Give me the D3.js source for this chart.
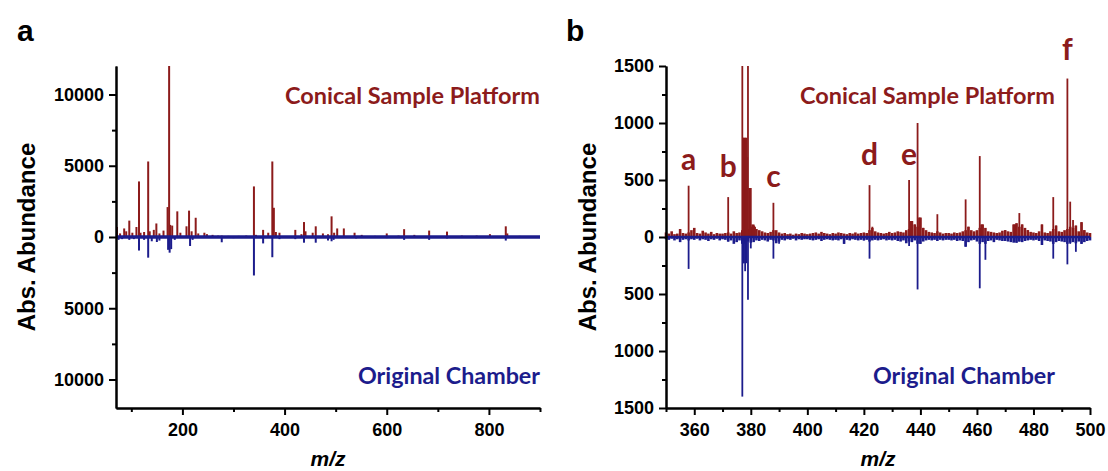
<!DOCTYPE html>
<html>
<head>
<meta charset="utf-8">
<script src="https://cdn.jsdelivr.net/npm/d3@7"></script>
<style>
body { margin: 0; background: #fff; }
svg { display: block; }
.tk text { font-family: "Liberation Sans", Arial, sans-serif; font-weight: bold; font-size: 18px; fill: #000; }
.tk path, .tk line { stroke: #000; stroke-width: 2; }
</style>
</head>
<body>
<svg width="1108" height="471"></svg>
<script>

// panel a: full range, [m/z, abundance]
var conicalA = [[72,700],[78,250],[86,600],[90,400],[96,1150],[102,300],[110,700],[115,3900],[118,300],[125,350],
  [133,5300],[136,400],[144,500],[149,950],[155,250],[163,450],[171,2100],[174,12500],[176,850],[180,800],
  [190,1800],[196,300],[208,750],[213,1850],[218,400],[226,1350],[231,250],[243,300],[248,200],[259,150],
  [270,100],[277,100],[290,80],[310,80],[325,100],[340,3550],[344,150],[358,500],[368,300],[376,5300],
  [379,2050],[383,350],[390,300],[421,500],[433,200],[438,1050],[441,400],[455,300],[461,750],[475,250],
  [485,200],[492,1450],[497,300],[503,600],[516,600],[537,300],[551,150],[577,80],[600,250],[623,100],
  [634,550],[654,150],[683,450],[718,380],[747,100],[776,100],[802,200],[833,750],[836,250],[860,80],[880,60]];

var originalA = [[75,-200],[82,-150],[96,-200],[105,-150],[115,-950],[125,-200],[133,-1450],[140,-300],[150,-350],
  [155,-250],[172,-900],[175,-1100],[178,-850],[185,-200],[215,-630],[220,-200],[277,-370],[300,-80],
  [340,-2700],[358,-450],[376,-1420],[390,-150],[421,-150],[438,-400],[461,-400],[485,-250],[492,-300],
  [496,-200],[540,-100],[600,-80],[634,-200],[683,-200],[718,-100],[833,-250]];

// panel b: zoom 350-500
var conicalB = [[358,450],[372,350],[377,2600],[377.25,870],[377.5,870],[377.75,870],[378,870],[378.25,870],
  [378.5,870],[378.75,700],[379,2400],[379.4,430],[380,430],[380.5,110],[381,110],[381.5,90],[388,300],
  [422,455],[423,90],[436,500],[436.5,140],[437,140],[438,110],[439,1000],[439.5,170],[440,170],[441,80],
  [446,200],[456,330],[457,90],[461,710],[461.5,110],[462,110],[470,60],[473,110],[473.5,110],[474,120],
  [475,210],[476,110],[477,80],[478,60],[483,110],[487,350],[488,100],[492,1390],[493,310],[494,150],
  [495,100],[497,130],[498,60]];

var originalB = [[358,-280],[372,-40],[377,-1400],[377.3,-230],[377.6,-230],[378,-300],[378.4,-230],[379,-550],
  [380,-100],[388,-190],[390,-60],[413,-60],[420,-30],[422,-190],[436,-80],[439,-460],[440,-60],[456,-85],
  [461,-450],[463,-200],[466,-30],[474,-50],[475,-40],[483,-70],[487,-190],[492,-240],[493,-60],
  [495,-130],[497,-60]];

// baseline noise in panel b, one value per m/z from 350
var noiseStartB = 350;
var conicalNoiseB = [40,30,50,25,30,70,35,30,40,60, 80,35,30,55,40,30,45,25,35,30,
  30,35,40,30,50,35,40,60,80,70, 90,100,70,60,50,40,35,45,60,60, 40,30,35,25,30,20,30,25,35,30,
  25,30,35,40,30,45,35,30,25,35, 30,40,35,30,25,35,30,40,30,35, 40,35,60,80,50,40,35,30,35,45,
  35,40,50,45,40,60,70,140,110,90, 170,80,60,45,40,35,50,40,30,35, 35,30,40,35,40,50,60,90,60,50,
  60,80,110,80,50,45,40,35,40,55, 60,50,45,110,120,90,110,80,60,45, 40,35,50,110,40,35,50,70,100,50,
  45,60,70,90,80,100,50,130,60,40, 35];
var originalNoiseB = [-20,-25,-15,-30,-20,-45,-25,-20,-30,-20, -25,-15,-30,-20,-25,-35,-20,-25,-15,-30,
  -20,-25,-40,-30,-60,-45,-30,-60,-60,-40, -50,-45,-30,-35,-25,-30,-40,-25,-30,-55, -40,-25,-30,-20,-25,-15,-30,-20,-25,-20,
  -20,-25,-30,-25,-20,-35,-25,-20,-25,-30, -25,-30,-20,-60,-25,-30,-20,-25,-30,-25, -30,-25,-40,-30,-25,-30,-25,-20,-30,-25,
  -30,-25,-35,-40,-30,-55,-40,-45,-30,-60, -60,-40,-30,-25,-30,-25,-35,-25,-30,-25, -25,-30,-25,-35,-30,-35,-85,-45,-30,-25,
  -40,-60,-45,-60,-35,-30,-45,-25,-30,-35, -35,-40,-45,-50,-50,-40,-45,-35,-30,-25, -30,-25,-35,-70,-30,-35,-40,-60,-45,-35,
  -40,-45,-60,-50,-45,-55,-40,-60,-45,-35, -30];

var ticksA_x = [200,400,600,800], minorA_x = [100,300,500,700,900];
var ticksA_y = [-10000,-5000,0,5000,10000], minorA_y = [-7500,-2500,2500,7500];
var ticksB_x = [360,380,400,420,440,460,480,500], minorB_x = [350,370,390,410,430,450,470,490];
var ticksB_y = [-1500,-1000,-500,0,500,1000,1500], minorB_y = [-1250,-750,-250,250,750,1250];

var peakLetters = [["a",358,170],["b",372,177],["c",388,187],["d",422,165],["e",436,165],["f",492,60]];

var RED = "#8c1b1b", BLUE = "#1c1c8c";
var svg = d3.select("svg");
var plotTop = 66, plotBottom = 408;

function noiseToPairs(start, vals) {
  return vals.map(function(v, i){ return [start + i, v]; });
}

function drawPanel(o) {
  var x = d3.scaleLinear().domain(o.xdom).range([o.left, o.right]);
  var y = d3.scaleLinear().domain(o.ydom).range([plotBottom, plotTop]).clamp(true);
  var g = svg.append("g");

  function sticks(data, color, w) {
    g.append("g").selectAll("line").data(data).enter().append("line")
      .attr("x1", function(d){ return x(d[0]); })
      .attr("x2", function(d){ return x(d[0]); })
      .attr("y1", y(0))
      .attr("y2", function(d){ return y(d[1]); })
      .attr("stroke", color).attr("stroke-width", w);
  }
  if (o.redNoise) sticks(o.redNoise, RED, 2.6);
  if (o.blueNoise) sticks(o.blueNoise, BLUE, 2.6);
  sticks(o.red, RED, o.sw);
  sticks(o.blue, BLUE, o.sw);
  g.append("line").attr("x1", o.left).attr("x2", o.right).attr("y1", y(0)).attr("y2", y(0))
    .attr("stroke", BLUE).attr("stroke-width", o.base);

  // minor ticks
  g.append("g").attr("class", "tk").attr("transform", "translate(0," + plotBottom + ")")
    .call(d3.axisBottom(x).tickValues(o.mx).tickSize(4).tickSizeOuter(0).tickFormat(""));
  g.append("g").attr("class", "tk").attr("transform", "translate(" + o.left + ",0)")
    .call(d3.axisLeft(y).tickValues(o.my).tickSize(4).tickSizeOuter(0).tickFormat(""));
  // major ticks
  g.append("g").attr("class", "tk").attr("transform", "translate(0," + plotBottom + ")")
    .call(d3.axisBottom(x).tickValues(o.tx).tickSize(7).tickPadding(8).tickSizeOuter(0).tickFormat(d3.format("d")));
  g.append("g").attr("class", "tk").attr("transform", "translate(" + o.left + ",0)")
    .call(d3.axisLeft(y).tickValues(o.ty).tickSize(7).tickPadding(5).tickSizeOuter(0)
      .tickFormat(function(d){ return Math.abs(d); }));

  g.append("text").attr("transform", "translate(" + o.ylabX + "," + ((plotTop + plotBottom) / 2) + ") rotate(-90)")
    .attr("text-anchor", "middle")
    .style("font-family", "Liberation Sans, Arial, sans-serif").style("font-weight", "bold").style("font-size", "24px")
    .text("Abs. Abundance");
  g.append("text").attr("x", (o.left + o.right) / 2).attr("y", 466).attr("text-anchor", "middle")
    .style("font-family", "Liberation Sans, Arial, sans-serif").style("font-weight", "bold")
    .style("font-style", "italic").style("font-size", "21px").text("m/z");
  g.append("text").attr("x", o.tagX).attr("y", 41)
    .style("font-family", "Liberation Sans, Arial, sans-serif").style("font-weight", "bold").style("font-size", "30px")
    .text(o.tag);

  g.append("text").attr("x", o.textEnd).attr("y", 104).attr("text-anchor", "end")
    .attr("textLength", 255).attr("lengthAdjust", "spacingAndGlyphs")
    .style("font-family", "Lato, sans-serif").style("font-weight", "bold").style("font-size", "22px")
    .attr("fill", RED).text("Conical Sample Platform");
  g.append("text").attr("x", o.textEnd).attr("y", 384).attr("text-anchor", "end")
    .attr("textLength", 182).attr("lengthAdjust", "spacingAndGlyphs")
    .style("font-family", "Lato, sans-serif").style("font-weight", "bold").style("font-size", "22px")
    .attr("fill", BLUE).text("Original Chamber");
  return {x: x, g: g};
}

drawPanel({left: 116, right: 540, xdom: [70, 900], ydom: [-12000, 12000],
  red: conicalA, blue: originalA, sw: 2, base: 3.5, textEnd: 540,
  tx: ticksA_x, mx: minorA_x, ty: ticksA_y, my: minorA_y, ylabX: 35, tagX: 17, tag: "a"});

var pb = drawPanel({left: 666, right: 1090, xdom: [350, 500], ydom: [-1500, 1500],
  redNoise: noiseToPairs(noiseStartB, conicalNoiseB), blueNoise: noiseToPairs(noiseStartB, originalNoiseB),
  red: conicalB, blue: originalB, sw: 1.8, base: 2.5, textEnd: 1055,
  tx: ticksB_x, mx: minorB_x, ty: ticksB_y, my: minorB_y, ylabX: 596, tagX: 566, tag: "b"});

pb.g.selectAll(".peakTag").data(peakLetters).enter().append("text")
  .attr("class", "peakTag")
  .attr("x", function(d){ return pb.x(d[1]); })
  .attr("y", function(d){ return d[2]; })
  .attr("text-anchor", "middle")
  .style("font-family", "Lato, sans-serif").style("font-weight", "bold").style("font-size", "30px")
  .attr("fill", RED).text(function(d){ return d[0]; });
</script>
</body>
</html>
